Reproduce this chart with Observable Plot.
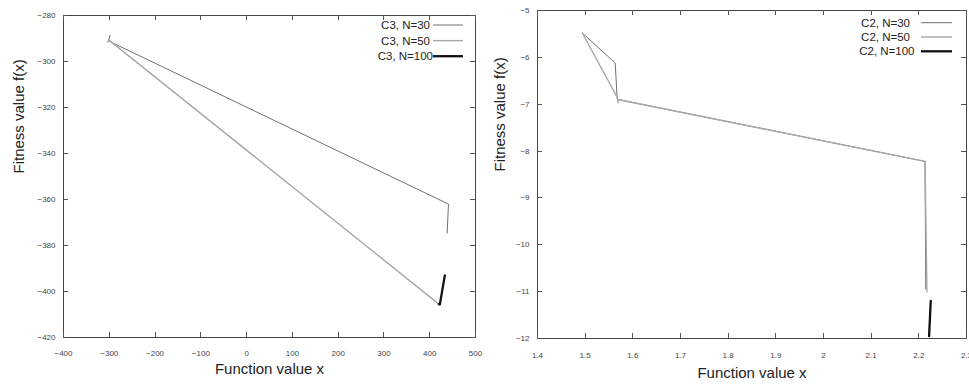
<!DOCTYPE html>
<html>
<head>
<meta charset="utf-8">
<script src="https://cdn.jsdelivr.net/npm/d3@7"></script>
<script src="https://cdn.jsdelivr.net/npm/@observablehq/plot@0.6"></script>
<style>
  html, body { margin: 0; padding: 0; background: #fff; }
  #wrap { position: relative; width: 969px; height: 385px; overflow: hidden; background: #fff; }
  #left { position: absolute; left: 0; top: 0; }
  #right { position: absolute; left: 484px; top: 0; }
  svg { overflow: visible; }
</style>
</head>
<body>
<div id="wrap"><div id="left"></div><div id="right"></div></div>
<script>
// ---------- data: left panel (C3) ----------
const c3Labels = ["C3, N=30", "C3, N=50", "C3, N=100"];
const c3x30 = [-298, -302, 441, 438];
const c3y30 = [-288.5, -291, -362, -374.6];
const c3x50 = [-304, -300, 422];
const c3y50 = [-291.5, -290.8, -405.8];
const c3x100 = [420, 422, 433];
const c3y100 = [-405.5, -405.8, -393];
const c3XTicks = [-400, -300, -200, -100, 0, 100, 200, 300, 400, 500];
const c3YTicks = [-420, -400, -380, -360, -340, -320, -300, -280];

// ---------- data: right panel (C2) ----------
const c2Labels = ["C2, N=30", "C2, N=50", "C2, N=100"];
const c2x30 = [1.494, 1.563, 1.567, 1.569, 2.213, 2.2145];
const c2y30 = [-5.48, -6.12, -6.85, -6.9, -8.22, -10.95];
const c2x50 = [1.494, 1.567, 1.569, 1.568, 2.213, 2.217];
const c2y50 = [-5.48, -6.85, -6.98, -6.9, -8.22, -11.0];
const c2x100 = [2.2215, 2.225];
const c2y100 = [-11.95, -11.2];
const c2XTicks = [1.4, 1.5, 1.6, 1.7, 1.8, 1.9, 2.0, 2.1, 2.2, 2.3];
const c2YTicks = [-12, -11, -10, -9, -8, -7, -6, -5];

const seriesColors = ["#707070", "#a8a8a8", "#111111"];
const seriesWidths = [1, 1.4, 2.3];
const xTitle = "Function value x";
const yTitle = "Fitness value f(x)";

function toRows(xs, ys, s) { return xs.map((x, i) => ({x, y: ys[i], s})); }

function panel(el, cfg) {
  const rows = [
    ...toRows(cfg.x30, cfg.y30, 0),
    ...toRows(cfg.x50, cfg.y50, 1),
    ...toRows(cfg.x100, cfg.y100, 2)
  ];
  const fmt = d3.format("~g");
  const H = 385, W = cfg.width;
  const chart = Plot.plot({
    width: W, height: H,
    marginLeft: cfg.ml, marginRight: cfg.mr, marginTop: cfg.mt, marginBottom: cfg.mb,
    x: {domain: cfg.xDomain},
    y: {domain: cfg.yDomain},
    style: {fontFamily: "'Liberation Sans', Arial, sans-serif", background: "#fff", overflow: "visible"},
    marks: [
      Plot.axisX(cfg.xTicks, {anchor: "bottom", tickSize: 0, tickPadding: cfg.xPad, tickFormat: fmt, fontSize: 8, fill: "#444", label: null}),
      Plot.axisY(cfg.yTicks, {anchor: "left", tickSize: 0, tickPadding: 8, tickFormat: fmt, fontSize: 8, fill: "#444", label: null}),
      Plot.frame({stroke: "#444", strokeWidth: 1}),
      ...[0, 1, 2].map(s => Plot.line(rows.filter(r => r.s === s), {
        x: "x", y: "y", stroke: seriesColors[s], strokeWidth: seriesWidths[s],
        strokeLinejoin: "miter"
      })),
      Plot.text([xTitle], {frameAnchor: "bottom", dy: cfg.xTitleDy, fontSize: 15, fill: "#222", text: d => d}),
      Plot.text([yTitle], {frameAnchor: "left", dx: cfg.yTitleDx, dy: -3, rotate: -90, fontSize: 15, fill: "#222", text: d => d})
    ]
  });
  el.appendChild(chart);
  const svg = d3.select(chart);
  const sx = chart.scale("x"), sy = chart.scale("y");
  const x0 = cfg.ml, x1 = W - cfg.mr, y0 = cfg.mt, y1 = H - cfg.mb;
  const tk = 5;
  // inward tick marks on all four sides (gnuplot style), positioned by Plot's scales
  const tg = svg.append("g").attr("stroke", "#555").attr("stroke-width", 1);
  cfg.xTicks.forEach(v => {
    const px = Math.round(sx.apply(v)) + 0.5;
    tg.append("line").attr("x1", px).attr("x2", px).attr("y1", y1).attr("y2", y1 - tk);
    tg.append("line").attr("x1", px).attr("x2", px).attr("y1", y0).attr("y2", y0 + tk);
  });
  cfg.yTicks.forEach(v => {
    const py = Math.round(sy.apply(v)) + 0.5;
    tg.append("line").attr("x1", x0).attr("x2", x0 + tk).attr("y1", py).attr("y2", py);
    tg.append("line").attr("x1", x1).attr("x2", x1 - tk).attr("y1", py).attr("y2", py);
  });
  // legend (inside plot, top right)
  const g = svg.append("g").attr("font-family", "'Liberation Sans', Arial, sans-serif").attr("font-size", 11.5).attr("fill", "#222");
  cfg.labels.forEach((lab, i) => {
    const y = cfg.legY0 + i * cfg.legDy;
    g.append("text").attr("x", cfg.legTextX + (i === 2 ? cfg.legLastShift : 0)).attr("y", y)
      .attr("dy", "0.35em").attr("text-anchor", "end").text(lab);
    g.append("line").attr("x1", cfg.legLineX1).attr("x2", cfg.legLineX2)
      .attr("y1", y).attr("y2", y)
      .attr("stroke", seriesColors[i]).attr("stroke-width", seriesWidths[i]);
  });
}

panel(document.getElementById("left"), {
  width: 484, ml: 63, mr: 9, mt: 15, mb: 48,
  xDomain: [-400, 500], yDomain: [-420, -280],
  xTicks: c3XTicks, yTicks: c3YTicks, xPad: 13,
  x30: c3x30, y30: c3y30, x50: c3x50, y50: c3y50, x100: c3x100, y100: c3y100,
  xTitleDy: 36, yTitleDx: -44,
  labels: c3Labels, legY0: 25, legDy: 15.6, legTextX: 430, legLastShift: 3,
  legLineX1: 433, legLineX2: 463
});

panel(document.getElementById("right"), {
  width: 485, ml: 53, mr: 3, mt: 10, mb: 47,
  xDomain: [1.4, 2.3], yDomain: [-12, -5],
  xTicks: c2XTicks, yTicks: c2YTicks, xPad: 14,
  x30: c2x30, y30: c2y30, x50: c2x50, y50: c2y50, x100: c2x100, y100: c2y100,
  xTitleDy: 39, yTitleDx: -37,
  labels: c2Labels, legY0: 22.7, legDy: 14.3, legTextX: 426, legLastShift: 4.5,
  legLineX1: 437, legLineX2: 468
});
</script>
</body>
</html>
